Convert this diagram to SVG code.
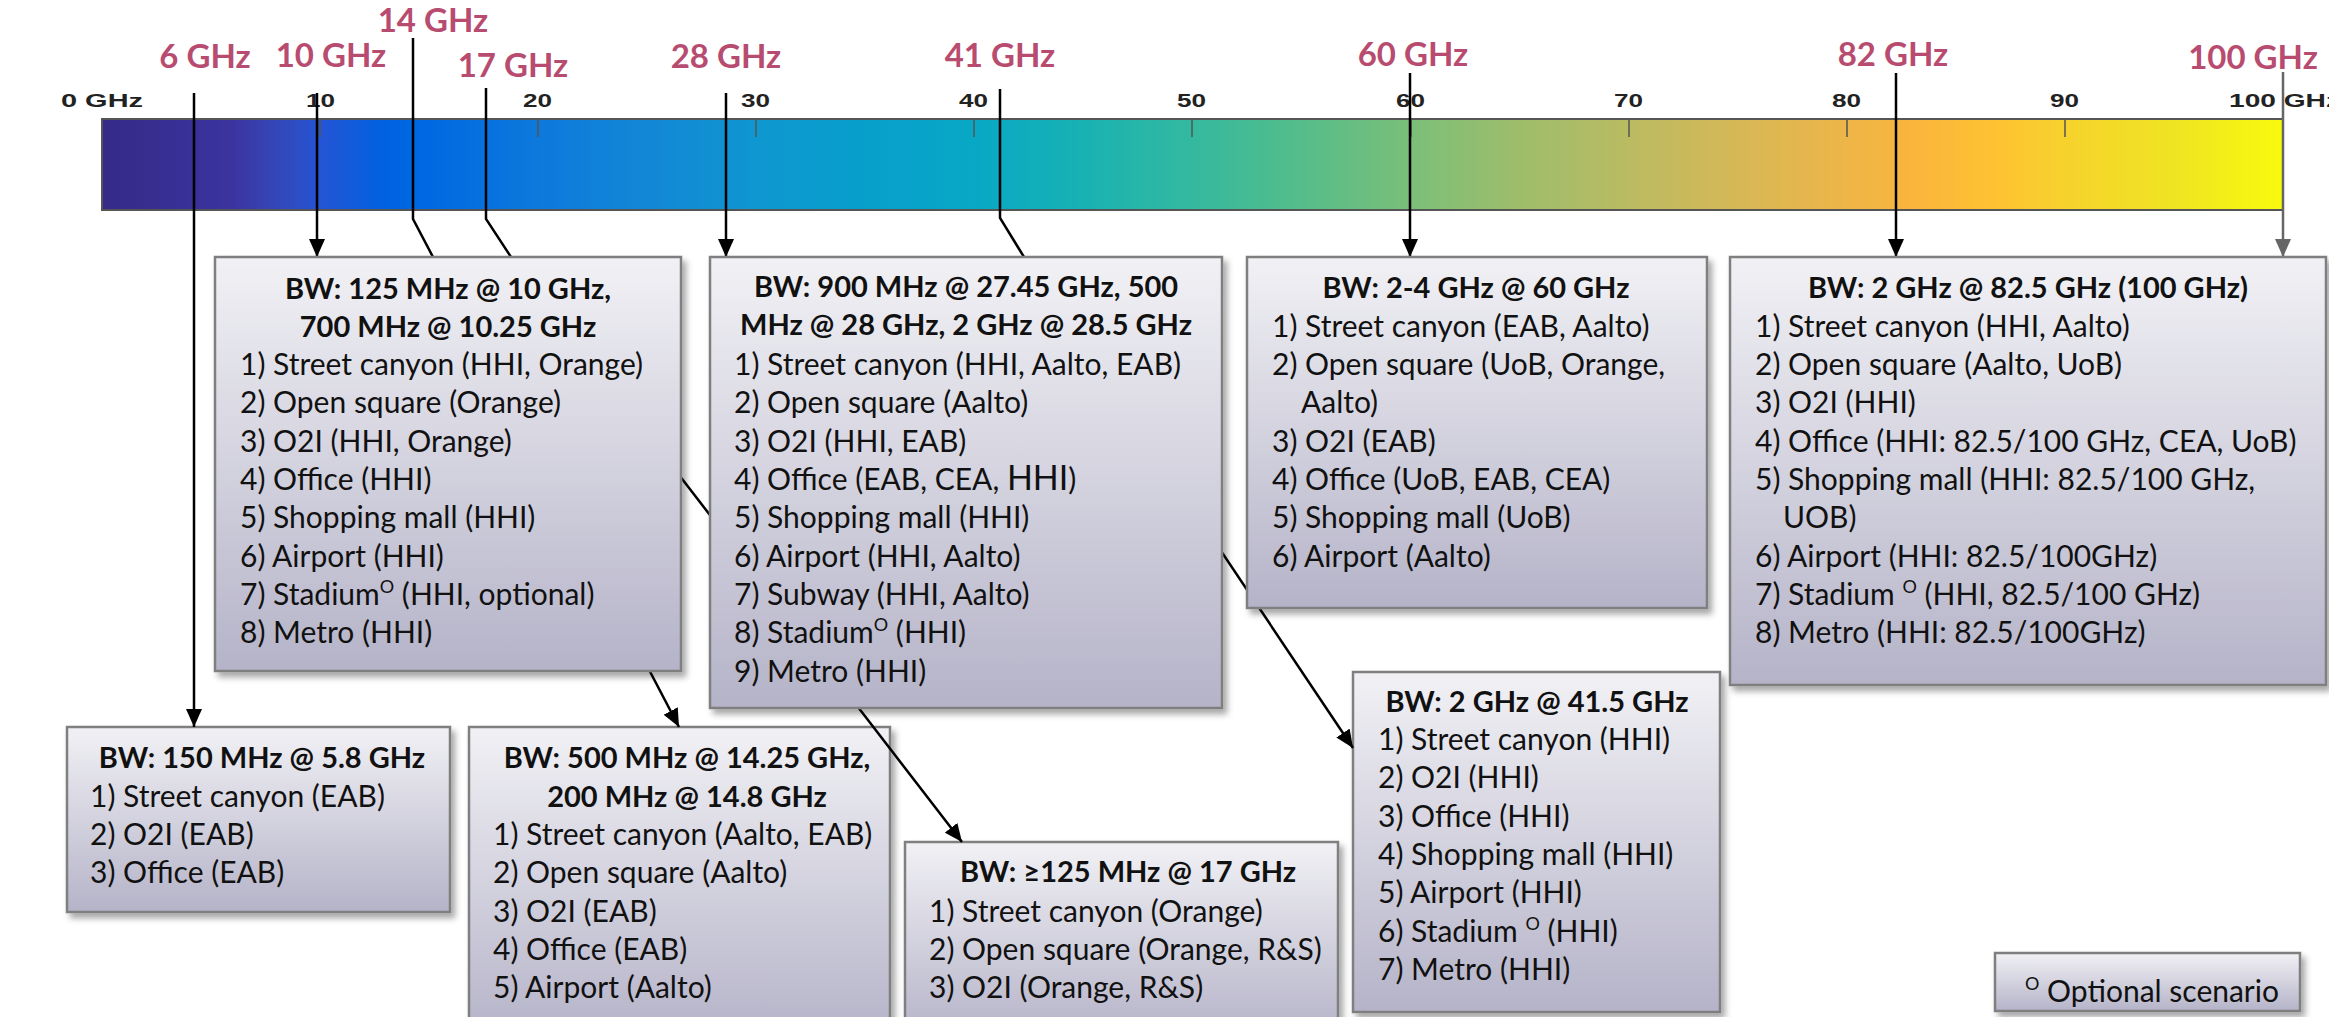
<svg xmlns="http://www.w3.org/2000/svg" width="2329" height="1017" viewBox="0 0 2329 1017">
<defs>
<linearGradient id="bar" x1="0" y1="0" x2="1" y2="0">
<stop offset="0" stop-color="#352A87"/><stop offset="0.06" stop-color="#3B34A0"/><stop offset="0.08" stop-color="#3447B8"/><stop offset="0.10" stop-color="#2454D4"/><stop offset="0.13" stop-color="#0062E0"/><stop offset="0.15" stop-color="#0069E2"/><stop offset="0.20" stop-color="#0D79DC"/><stop offset="0.25" stop-color="#1387D6"/><stop offset="0.30" stop-color="#0E97D0"/><stop offset="0.35" stop-color="#079FCC"/><stop offset="0.40" stop-color="#08A8C5"/><stop offset="0.45" stop-color="#18B2B3"/><stop offset="0.50" stop-color="#34B99F"/><stop offset="0.55" stop-color="#55BD8A"/><stop offset="0.60" stop-color="#7BBF79"/><stop offset="0.65" stop-color="#9EBD6B"/><stop offset="0.70" stop-color="#BABB62"/><stop offset="0.75" stop-color="#D6B856"/><stop offset="0.80" stop-color="#EEB548"/><stop offset="0.83" stop-color="#F9B53C"/><stop offset="0.87" stop-color="#FEC232"/><stop offset="0.90" stop-color="#F6D22D"/><stop offset="0.95" stop-color="#EFE422"/><stop offset="1" stop-color="#F8FA0D"/>
</linearGradient>
<linearGradient id="boxg" x1="0" y1="0" x2="0" y2="1">
<stop offset="0" stop-color="#F1F1F5"/><stop offset="1" stop-color="#B5B3C8"/>
</linearGradient>
<filter id="sh" x="-5%" y="-5%" width="115%" height="115%">
<feDropShadow dx="4" dy="5" stdDeviation="3" flood-color="#000" flood-opacity="0.35"/>
</filter>
<marker id="ah" viewBox="0 0 18 16" refX="18" refY="8" markerWidth="18" markerHeight="16" markerUnits="userSpaceOnUse" orient="auto">
<path d="M0,0 L18,8 L0,16 z" fill="#000"/>
</marker>
<marker id="ahg" viewBox="0 0 18 16" refX="18" refY="8" markerWidth="18" markerHeight="16" markerUnits="userSpaceOnUse" orient="auto">
<path d="M0,0 L18,8 L0,16 z" fill="#666"/>
</marker>
<style>
.box{fill:url(#boxg);stroke:#7F7F7F;stroke-width:2.5;filter:url(#sh)}
.t{font-family:Lato,"Liberation Sans",sans-serif;font-size:30px;fill:#111}
.h{font-weight:bold;text-anchor:middle;font-size:29px}
.sup{font-size:18px}
.f{font-family:Lato,"Liberation Sans",sans-serif;font-weight:bold;font-size:33px;fill:#B84C70;text-anchor:middle}
.k{font-family:"Liberation Sans",Arial,sans-serif;font-weight:bold;font-size:19px;fill:#222}
.c{fill:none;stroke:#000;stroke-width:2.5;marker-end:url(#ah)}
.cg{fill:none;stroke:#666;stroke-width:2.5;marker-end:url(#ahg)}
.tick{stroke:#555;stroke-width:1.5}
</style>
</defs>
<rect width="2329" height="1017" fill="#fff"/>

<g id="spectrum">
<rect x="102" y="119" width="2181" height="91" fill="url(#bar)" stroke="#555" stroke-width="2"/>
<line class="tick" x1="320" y1="120" x2="320" y2="137"/><line class="tick" x1="538" y1="120" x2="538" y2="137"/><line class="tick" x1="756" y1="120" x2="756" y2="137"/><line class="tick" x1="974" y1="120" x2="974" y2="137"/><line class="tick" x1="1192" y1="120" x2="1192" y2="137"/><line class="tick" x1="1411" y1="120" x2="1411" y2="137"/><line class="tick" x1="1629" y1="120" x2="1629" y2="137"/><line class="tick" x1="1847" y1="120" x2="1847" y2="137"/><line class="tick" x1="2065" y1="120" x2="2065" y2="137"/>
<text class="k" x="61" y="107" textLength="82" lengthAdjust="spacingAndGlyphs">0 GHz</text>
<text class="k" x="306" y="107" textLength="29" lengthAdjust="spacingAndGlyphs">10</text>
<text class="k" x="523" y="107" textLength="29" lengthAdjust="spacingAndGlyphs">20</text>
<text class="k" x="741" y="107" textLength="29" lengthAdjust="spacingAndGlyphs">30</text>
<text class="k" x="959" y="107" textLength="29" lengthAdjust="spacingAndGlyphs">40</text>
<text class="k" x="1177" y="107" textLength="29" lengthAdjust="spacingAndGlyphs">50</text>
<text class="k" x="1396" y="107" textLength="29" lengthAdjust="spacingAndGlyphs">60</text>
<text class="k" x="1614" y="107" textLength="29" lengthAdjust="spacingAndGlyphs">70</text>
<text class="k" x="1832" y="107" textLength="29" lengthAdjust="spacingAndGlyphs">80</text>
<text class="k" x="2050" y="107" textLength="29" lengthAdjust="spacingAndGlyphs">90</text>
<text class="k" x="2229" y="107" textLength="111" lengthAdjust="spacingAndGlyphs">100 GHz</text>
</g>

<g id="freq-labels">
<text class="f" x="205" y="68">6 GHz</text>
<text class="f" x="331" y="67">10 GHz</text>
<text class="f" x="433" y="32">14 GHz</text>
<text class="f" x="513" y="77">17 GHz</text>
<text class="f" x="726" y="68">28 GHz</text>
<text class="f" x="1000" y="67">41 GHz</text>
<text class="f" x="1413" y="66">60 GHz</text>
<text class="f" x="1893" y="66">82 GHz</text>
<text class="f" x="2253" y="69">100 GHz</text>
</g>

<g id="node-14ghz">
<rect class="box" x="469" y="727" width="421" height="310"/>
<text class="t h" x="687" y="768">BW: 500 MHz @ 14.25 GHz,</text>
<text class="t h" x="687" y="807">200 MHz @ 14.8 GHz</text>
<text class="t" x="493" y="845">1) Street canyon (Aalto, EAB)</text>
<text class="t" x="493" y="883">2) Open square (Aalto)</text>
<text class="t" x="493" y="922">3) O2I (EAB)</text>
<text class="t" x="493" y="960">4) Office (EAB)</text>
<text class="t" x="493" y="998">5) Airport (Aalto)</text>
</g>

<g id="node-17ghz">
<rect class="box" x="905" y="842" width="433" height="195"/>
<text class="t h" x="1128" y="882">BW: ≥125 MHz @ 17 GHz</text>
<text class="t" x="929" y="922">1) Street canyon (Orange)</text>
<text class="t" x="929" y="960">2) Open square (Orange, R&amp;S)</text>
<text class="t" x="929" y="998">3) O2I (Orange, R&amp;S)</text>
</g>

<g id="node-41ghz">
<rect class="box" x="1353" y="672" width="367" height="340"/>
<text class="t h" x="1537" y="712">BW: 2 GHz @ 41.5 GHz</text>
<text class="t" x="1378" y="750">1) Street canyon (HHI)</text>
<text class="t" x="1378" y="788">2) O2I (HHI)</text>
<text class="t" x="1378" y="827">3) Office (HHI)</text>
<text class="t" x="1378" y="865">4) Shopping mall (HHI)</text>
<text class="t" x="1378" y="903">5) Airport (HHI)</text>
<text class="t" x="1378" y="942">6) Stadium <tspan class="sup" dy="-12">O</tspan><tspan dy="12"> (HHI)</tspan></text>
<text class="t" x="1378" y="980">7) Metro (HHI)</text>
</g>

<g id="node-6ghz">
<rect class="box" x="67" y="727" width="383" height="185"/>
<text class="t h" x="262" y="768">BW: 150 MHz @ 5.8 GHz</text>
<text class="t" x="90" y="807">1) Street canyon (EAB)</text>
<text class="t" x="90" y="845">2) O2I (EAB)</text>
<text class="t" x="90" y="883">3) Office (EAB)</text>
</g>

<g id="legend">
<rect class="box" x="1995" y="953" width="305" height="58"/>
<text class="t" x="2025" y="1002"><tspan class="sup" dy="-12">O</tspan><tspan dy="12"> Optional scenario</tspan></text>
</g>

<g id="connectors">
<path class="c" d="M194,93 V727"/>
<path class="c" d="M317,93 V257"/>
<path class="c" d="M413,38 V219 L433,257 L679,727"/>
<path class="c" d="M486,88 V219 L511,257 L962,842"/>
<path class="c" d="M726,93 V257"/>
<path class="c" d="M1000,89 V218 L1024,257 L1353,748"/>
<path class="c" d="M1410,73 V257"/>
<path class="c" d="M1896,73 V257"/>
<path class="cg" d="M2283,72 V257"/>
</g>

<g id="node-10ghz">
<rect class="box" x="215" y="257" width="466" height="414"/>
<text class="t h" x="448" y="299">BW: 125 MHz @ 10 GHz,</text>
<text class="t h" x="448" y="337">700 MHz @ 10.25 GHz</text>
<text class="t" x="240" y="375">1) Street canyon (HHI, Orange)</text>
<text class="t" x="240" y="413">2) Open square (Orange)</text>
<text class="t" x="240" y="452">3) O2I (HHI, Orange)</text>
<text class="t" x="240" y="490">4) Office (HHI)</text>
<text class="t" x="240" y="528">5) Shopping mall (HHI)</text>
<text class="t" x="240" y="567">6) Airport (HHI)</text>
<text class="t" x="240" y="605">7) Stadium<tspan class="sup" dy="-12">O</tspan><tspan dy="12"> (HHI, optional)</tspan></text>
<text class="t" x="240" y="643">8) Metro (HHI)</text>
</g>

<g id="node-28ghz">
<rect class="box" x="710" y="257" width="512" height="451"/>
<text class="t h" x="966" y="297">BW: 900 MHz @ 27.45 GHz, 500</text>
<text class="t h" x="966" y="335">MHz @ 28 GHz, 2 GHz @ 28.5 GHz</text>
<text class="t" x="734" y="375">1) Street canyon (HHI, Aalto, EAB)</text>
<text class="t" x="734" y="413">2) Open square (Aalto)</text>
<text class="t" x="734" y="452">3) O2I (HHI, EAB)</text>
<text class="t" x="734" y="490">4) Office (EAB, CEA, <tspan font-size="34">HHI</tspan>)</text>
<text class="t" x="734" y="528">5) Shopping mall (HHI)</text>
<text class="t" x="734" y="567">6) Airport (HHI, Aalto)</text>
<text class="t" x="734" y="605">7) Subway (HHI, Aalto)</text>
<text class="t" x="734" y="643">8) Stadium<tspan class="sup" dy="-12">O</tspan><tspan dy="12"> (HHI)</tspan></text>
<text class="t" x="734" y="682">9) Metro (HHI)</text>
</g>

<g id="node-60ghz">
<rect class="box" x="1247" y="257" width="460" height="351"/>
<text class="t h" x="1476" y="298">BW: 2-4 GHz @ 60 GHz</text>
<text class="t" x="1272" y="337">1) Street canyon (EAB, Aalto)</text>
<text class="t" x="1272" y="375">2) Open square (UoB, Orange,</text>
<text class="t" x="1301" y="413">Aalto)</text>
<text class="t" x="1272" y="452">3) O2I (EAB)</text>
<text class="t" x="1272" y="490">4) Office (UoB, EAB, CEA)</text>
<text class="t" x="1272" y="528">5) Shopping mall (UoB)</text>
<text class="t" x="1272" y="567">6) Airport (Aalto)</text>
</g>

<g id="node-82ghz">
<rect class="box" x="1730" y="257" width="596" height="428"/>
<text class="t h" x="2028" y="298">BW: 2 GHz @ 82.5 GHz (100 GHz)</text>
<text class="t" x="1755" y="337">1) Street canyon (HHI, Aalto)</text>
<text class="t" x="1755" y="375">2) Open square (Aalto, UoB)</text>
<text class="t" x="1755" y="413">3) O2I (HHI)</text>
<text class="t" x="1755" y="452">4) Office (HHI: 82.5/100 GHz, CEA, UoB)</text>
<text class="t" x="1755" y="490">5) Shopping mall (HHI: 82.5/100 GHz,</text>
<text class="t" x="1783" y="528">UOB)</text>
<text class="t" x="1755" y="567">6) Airport (HHI: 82.5/100GHz)</text>
<text class="t" x="1755" y="605">7) Stadium <tspan class="sup" dy="-12">O</tspan><tspan dy="12"> (HHI, 82.5/100 GHz)</tspan></text>
<text class="t" x="1755" y="643">8) Metro (HHI: 82.5/100GHz)</text>
</g>
</svg>
